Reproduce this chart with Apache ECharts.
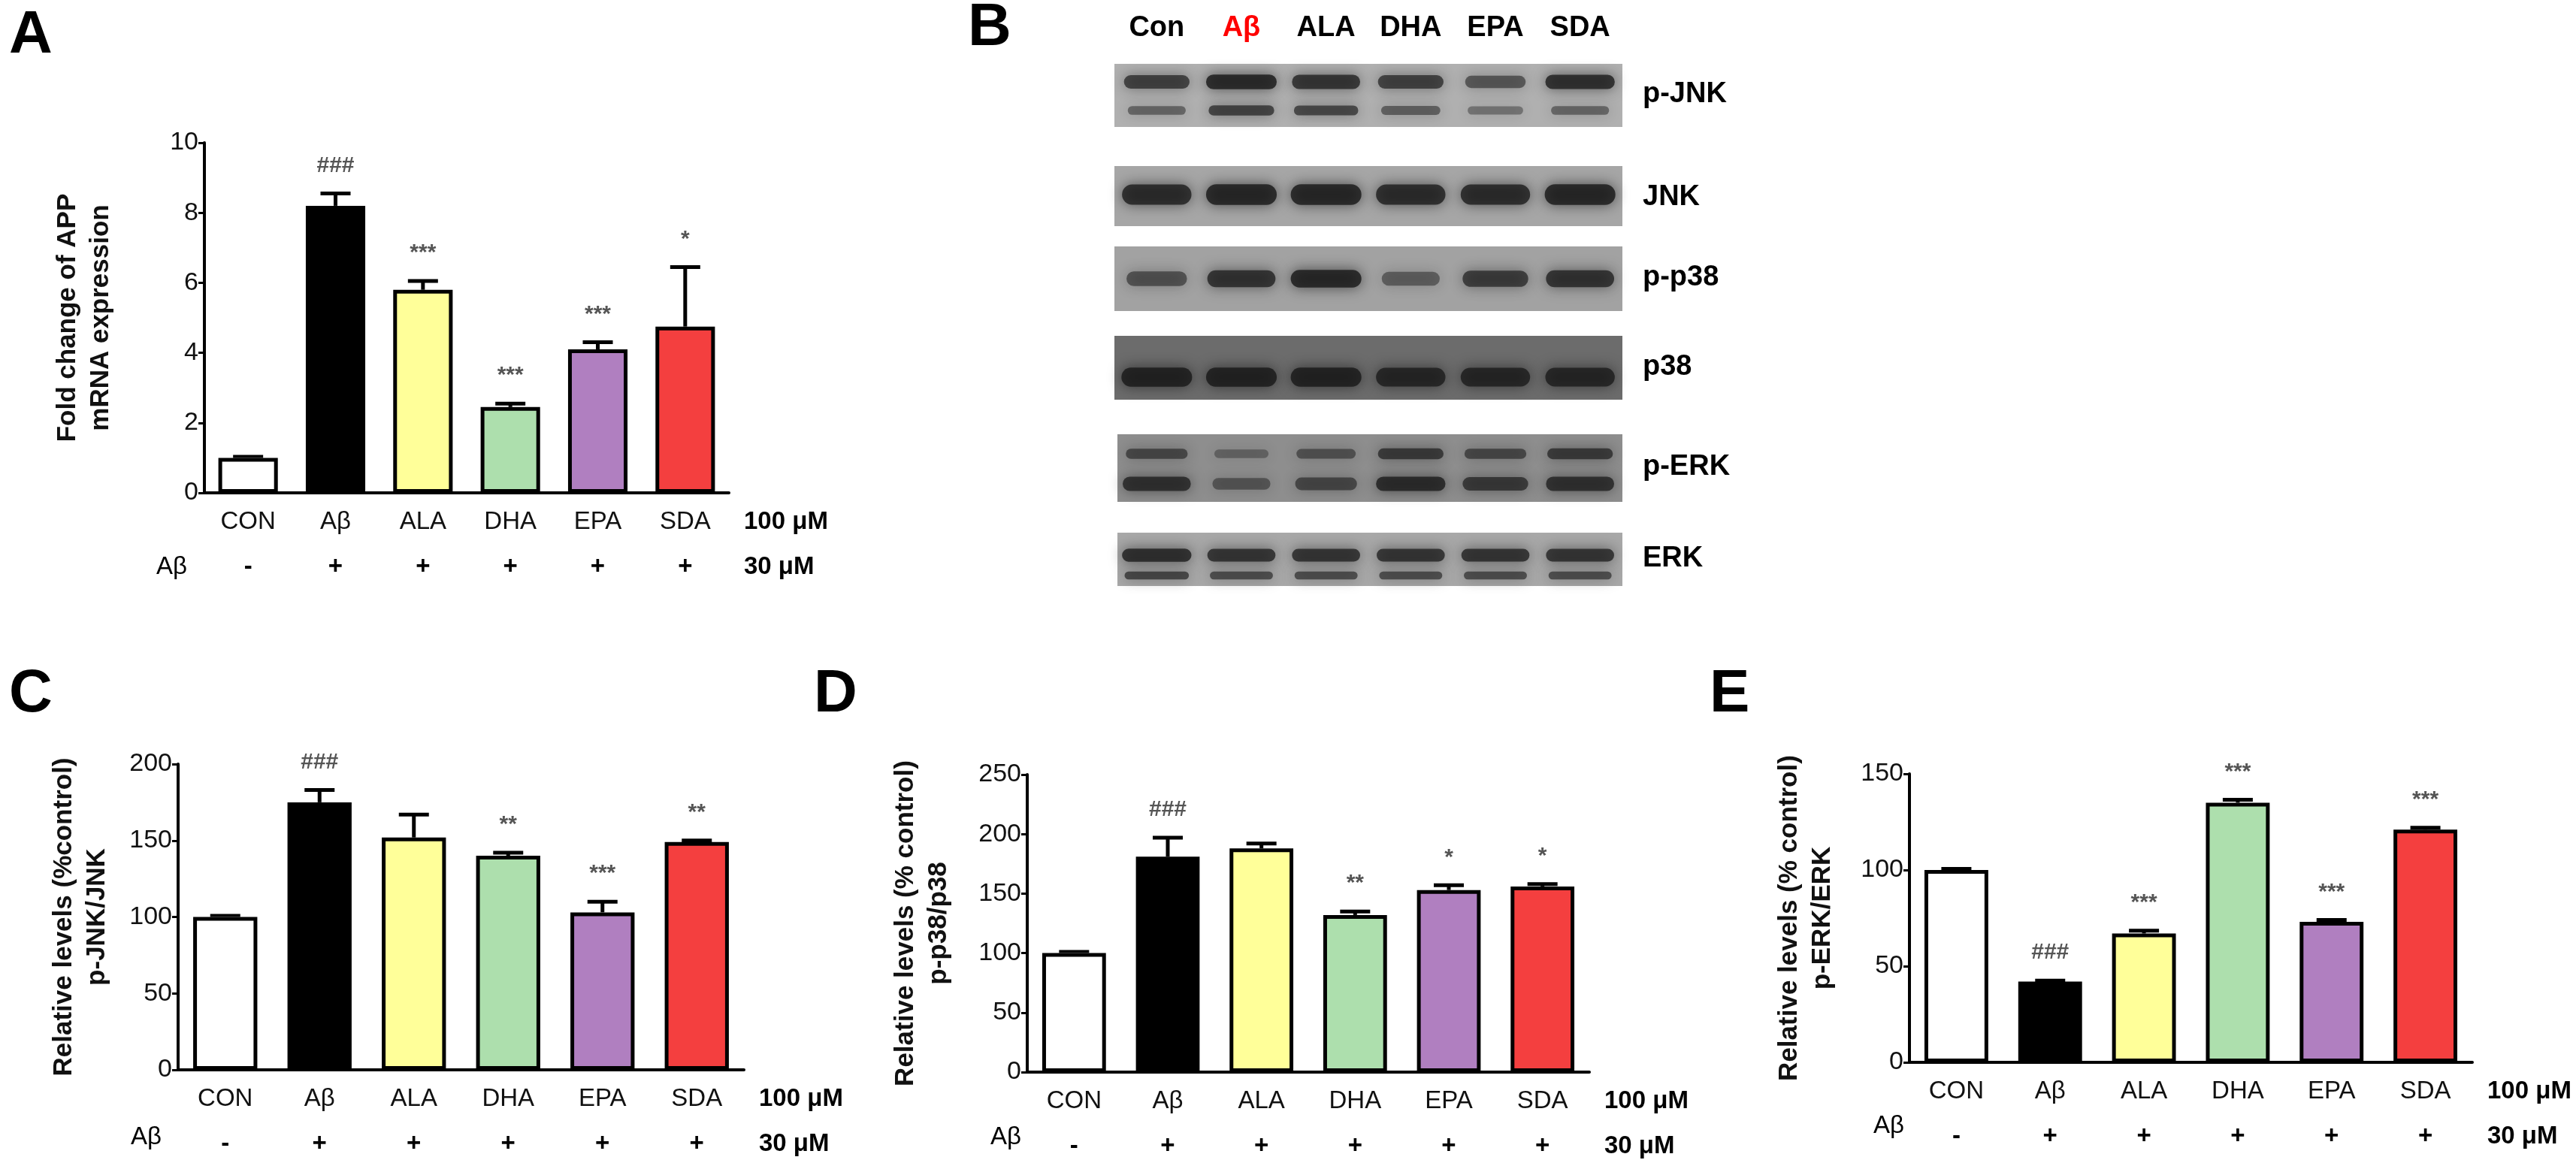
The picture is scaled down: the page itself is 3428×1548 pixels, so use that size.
<!DOCTYPE html>
<html>
<head>
<meta charset="utf-8">
<script src="https://cdn.jsdelivr.net/npm/echarts@6/dist/echarts.min.js"></script>
<style>html,body{margin:0;background:#fff}#echart{width:3428px;height:1548px}</style>
</head>
<body>
<div id="echart"></div>
<script>
var myChart = echarts.init(document.getElementById("echart"));

// ---- data ----
var groups = ['CON', 'Aβ', 'ALA', 'DHA', 'EPA', 'SDA'];
var abRow = ['-', '+', '+', '+', '+', '+'];
var barColors = ['#ffffff', '#000000', '#ffff99', '#addfad', '#b07fc0', '#f43f3f'];

var appMean = [1.0, 8.2, 5.8, 2.45, 4.1, 4.75];
var appTop = [1.0, 8.55, 6.05, 2.55, 4.3, 6.45];
var appMark = ['', '###', '***', '***', '***', '*'];

var jnkMean = [100, 175, 152, 140, 103, 149];
var jnkTop = [100, 183, 167, 142, 110, 150];
var jnkMark = ['', '###', '', '**', '***', '**'];

var p38Mean = [100, 181, 188, 132, 153, 156];
var p38Top = [100, 197, 192, 135, 157, 158];
var p38Mark = ['', '###', '', '**', '*', '*'];

var erkMean = [100, 42, 67, 135, 73, 121];
var erkTop = [100, 42.5, 68.5, 136.5, 74, 122];
var erkMark = ['', '###', '***', '***', '***', '***'];

// western blot: lanes, row names, band intensity (0..1)
var lanes = ['Con', 'Aβ', 'ALA', 'DHA', 'EPA', 'SDA'];
var blotNames = ['p-JNK', 'JNK', 'p-p38', 'p38', 'p-ERK', 'ERK'];
var pJnkUpper = [0.75, 0.95, 0.85, 0.75, 0.55, 0.9];
var pJnkLower = [0.45, 0.75, 0.7, 0.5, 0.35, 0.45];
var jnkBand = [0.9, 0.95, 0.95, 0.9, 0.9, 0.95];
var pP38Band = [0.55, 0.85, 0.95, 0.45, 0.75, 0.85];
var p38Band = [0.95, 0.95, 0.95, 0.9, 0.9, 0.9];
var pErkUpper = [0.6, 0.3, 0.5, 0.75, 0.6, 0.75];
var pErkLower = [0.85, 0.45, 0.6, 0.9, 0.75, 0.85];
var erkUpper = [0.9, 0.85, 0.85, 0.85, 0.85, 0.85];
var erkLower = [0.7, 0.65, 0.65, 0.65, 0.65, 0.65];

// blot strip layout (in blot axis units)
var strips = [
  {top: 85, bottom: 169, bg: '#b0b0b0', bands: [[109, 20, pJnkUpper], [147, 15, pJnkLower]]},
  {top: 221, bottom: 301, bg: '#a6a6a6', bands: [[259, 28, jnkBand]]},
  {top: 328, bottom: 414, bg: '#a2a2a2', bands: [[371, 24, pP38Band]]},
  {top: 447, bottom: 532, bg: '#6c6c6c', bands: [[502, 26, p38Band]]},
  {top: 578, bottom: 668, bg: '#8e8e8e', bands: [[604, 16, pErkUpper], [644, 20, pErkLower]]},
  {top: 709, bottom: 780, bg: '#a8a8a8', bands: [[739, 18, erkUpper], [766, 12, erkLower]]}
];

// ---- helpers ----
var font = 'Liberation Sans, Arial, sans-serif';
var panels = [
  {mean: appMean, top: appTop, mark: appMark, max: 10, interval: 2,
   name: 'Fold change of APP\nmRNA expression', grid: {left: 272, top: 190, width: 698, height: 466}, nameGap: 116, abX: 232, abY: 756},
  {mean: jnkMean, top: jnkTop, mark: jnkMark, max: 200, interval: 50,
   name: 'Relative levels (%control)\np-JNK/JNK', grid: {left: 237, top: 1017, width: 753, height: 407}, nameGap: 86, abX: 198, abY: 1515},
  {mean: p38Mean, top: p38Top, mark: p38Mark, max: 250, interval: 50,
   name: 'Relative levels (% control)\np-p38/p38', grid: {left: 1367, top: 1031, width: 748, height: 396}, nameGap: 96, abX: 1342, abY: 1515},
  {mean: erkMean, top: erkTop, mark: erkMark, max: 150, interval: 50,
   name: 'Relative levels (% control)\np-ERK/ERK', grid: {left: 2541, top: 1030, width: 749, height: 384}, nameGap: 94, abX: 2517, abY: 1500}
];

var grids = [], xAxes = [], yAxes = [], series = [], graphics = [];

panels.forEach(function (p, i) {
  grids.push(p.grid);
  xAxes.push({
    type: 'category', gridIndex: i, data: groups,
    axisLine: {lineStyle: {color: '#000', width: 4}},
    axisTick: {alignWithLabel: true, length: 10, lineStyle: {width: 4, color: '#000'}},
    axisLabel: {color: '#111', fontSize: 33, fontFamily: font, margin: 22},
    name: '100 μM', nameLocation: 'end', nameGap: 20,
    nameTextStyle: {color: '#000', fontSize: 33, fontWeight: 'bold', fontFamily: font, verticalAlign: 'top', padding: [22, 0, 0, 0]}
  });
  xAxes.push({
    type: 'category', gridIndex: i, data: abRow, position: 'bottom', offset: 60,
    axisLine: {show: false}, axisTick: {show: false},
    axisLabel: {color: '#000', fontSize: 33, fontWeight: 'bold', fontFamily: font, margin: 22},
    name: '30 μM', nameLocation: 'end', nameGap: 20,
    nameTextStyle: {color: '#000', fontSize: 33, fontWeight: 'bold', fontFamily: font, verticalAlign: 'top', padding: [22, 0, 0, 0]}
  });
  yAxes.push({
    type: 'value', gridIndex: i, min: 0, max: p.max, interval: p.interval,
    splitLine: {show: false},
    axisLine: {show: true, lineStyle: {color: '#000', width: 4}},
    axisTick: {show: true, length: 8, lineStyle: {width: 3, color: '#000'}},
    axisLabel: {color: '#111', fontSize: 34, fontFamily: font, margin: 8},
    name: p.name, nameLocation: 'middle', nameRotate: 90, nameGap: p.nameGap,
    nameTextStyle: {color: '#111', fontSize: 35, fontWeight: 'bold', fontFamily: font, lineHeight: 44}
  });
  series.push({
    type: 'bar', xAxisIndex: i * 2, yAxisIndex: i, barWidth: '68%',
    data: p.mean.map(function (v, k) {
      return {value: v, itemStyle: {color: barColors[k]}};
    }),
    itemStyle: {borderColor: '#000', borderWidth: 5}
  });
  series.push({
    type: 'custom', xAxisIndex: i * 2, yAxisIndex: i, z: 5,
    data: p.mean.map(function (v, k) { return [k, v, p.top[k]]; }),
    renderItem: function (params, api) {
      var b = api.coord([api.value(0), api.value(1)]);
      var t = api.coord([api.value(0), api.value(2)]);
      var mark = p.mark[params.dataIndex];
      var kids = [];
      if (t[1] < b[1] - 1) {
        kids.push({type: 'line', shape: {x1: b[0], y1: b[1], x2: t[0], y2: t[1]}, style: {stroke: '#000', lineWidth: 5}});
        kids.push({type: 'line', shape: {x1: t[0] - 20, y1: t[1], x2: t[0] + 20, y2: t[1]}, style: {stroke: '#000', lineWidth: 5}});
      } else {
        kids.push({type: 'line', shape: {x1: t[0] - 20, y1: t[1] - 2, x2: t[0] + 20, y2: t[1] - 2}, style: {stroke: '#000', lineWidth: 4}});
      }
      if (mark) {
        kids.push({type: 'text', x: t[0], y: t[1] - 22, style: {text: mark, fill: '#555', font: 'bold 30px ' + font, align: 'center', verticalAlign: 'bottom'}});
      }
      return {type: 'group', children: kids};
    }
  });
  graphics.push({type: 'text', left: p.abX - 24, top: p.abY - 18, style: {text: 'Aβ', fill: '#000', font: '33px ' + font}});
});

// blot grid
var bi = panels.length;
grids.push({left: 1483, top: 85, width: 676, height: 695});
xAxes.push({
  type: 'category', gridIndex: bi, data: lanes, position: 'top',
  axisLine: {show: false}, axisTick: {show: false},
  axisLabel: {
    interval: 0, margin: 28, fontSize: 38, fontWeight: 'bold', fontFamily: font, color: '#000',
    formatter: function (v) { return v === 'Aβ' ? '{r|Aβ}' : v; },
    rich: {r: {color: '#ff0000', fontSize: 38, fontWeight: 'bold', fontFamily: font}}
  }
});
yAxes.push({type: 'value', gridIndex: bi, min: 85, max: 780, inverse: true, show: false, splitLine: {show: false}});

series.push({
  type: 'custom', xAxisIndex: xAxes.length - 1, yAxisIndex: bi,
  data: strips.map(function (s, k) { return [k]; }),
  renderItem: function (params, api) {
    var s = strips[params.dataIndex];
    var a = api.coord([0, s.top]), b = api.coord([5, s.bottom]);
    var left = params.coordSys.x + (params.dataIndex >= 4 ? 4 : 0);
    var right = params.coordSys.x + params.coordSys.width;
    var kids = [{type: 'rect', shape: {x: left, y: a[1], width: right - left, height: b[1] - a[1]}, style: {fill: s.bg}}];
    var laneW = params.coordSys.width / 6;
    s.bands.forEach(function (band) {
      band[2].forEach(function (inten, lane) {
        var c = api.coord([lane, band[0]]);
        var w = laneW * (0.55 + 0.3 * inten);
        var h = band[1] * (0.6 + 0.4 * inten);
        var col = 'rgba(25,25,25,' + (0.15 + 0.7 * inten).toFixed(2) + ')';
        kids.push({type: 'rect', shape: {x: c[0] - w / 2, y: c[1] - h / 2, width: w, height: h, r: h / 2},
          style: {fill: col, shadowBlur: 18, shadowColor: col}});
      });
    });
    return {type: 'group', children: kids};
  }
});

var blotLabelY = [127, 264, 371, 490, 623, 745];
blotNames.forEach(function (n, k) {
  graphics.push({type: 'text', left: 2186, top: blotLabelY[k] - 20, style: {text: n, fill: '#000', font: 'bold 38px ' + font}});
});

// panel letters
[['A', 40, 50], ['B', 1316, 40], ['C', 40, 927], ['D', 1111, 927], ['E', 2303, 927]].forEach(function (l) {
  graphics.push({type: 'text', left: l[1] - 28, top: l[2] - 42, style: {text: l[0], fill: '#000', font: 'bold 80px ' + font}});
});

option = {
  backgroundColor: '#fff',
  animation: false,
  grid: grids,
  xAxis: xAxes,
  yAxis: yAxes,
  series: series,
  graphic: graphics
};

myChart.setOption(option);
</script>
</body>
</html>
